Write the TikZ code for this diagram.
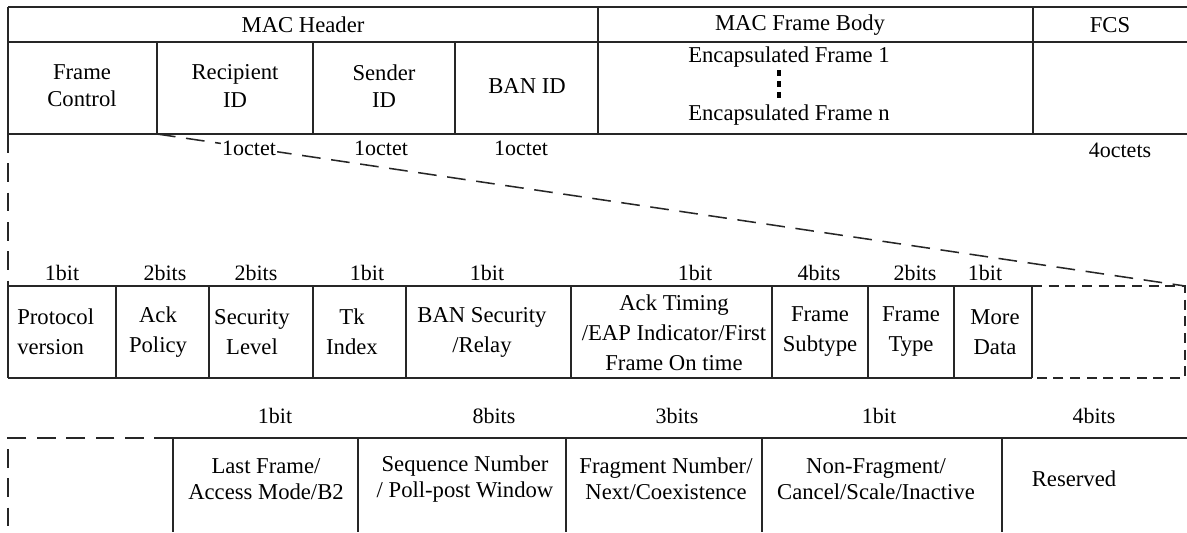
\documentclass[tikz,border=0pt]{standalone}
\usepackage{fontspec}
\setmainfont{Liberation Serif}
\begin{document}
\begin{tikzpicture}[x=0.75pt,y=-0.75pt]
\tikzset{
  tline/.style={line width=1.15pt, draw=black!85},
  zoomline/.style={line width=1.15pt, draw=black!85, dash pattern=on 14pt off 8pt},
  boxdash/.style={line width=1.15pt, draw=black!85, dash pattern=on 7.5pt off 5pt},
  txt/.style={font=\fontsize{17}{20.5}\selectfont, inner sep=0pt, align=center},
  midtxt/.style={font=\fontsize{17}{22.5}\selectfont, inner sep=0pt, align=center},
  bottxt/.style={font=\fontsize{17}{19.5}\selectfont, inner sep=0pt, align=center},
  bits/.style={font=\fontsize{16.5}{20}\selectfont, inner sep=0pt},
  dotsq/.style={fill=black, inner sep=0pt, minimum width=3.5pt, minimum height=4pt}
}
\useasboundingbox (0,0) rectangle (1187,532);

% ---------- key corners ----------
\coordinate (fcBL) at (8,134);
\coordinate (fcBR) at (157,134);
\coordinate (midTL) at (8,286);
\coordinate (midTR) at (1185,286);
\coordinate (midBR) at (1185,378);
\coordinate (boxTL) at (1032,286);
\coordinate (boxBL) at (1032,378);
\coordinate (botStart) at (173,438);
\coordinate (botTL) at (8,438);
\coordinate (botBL) at (8,532);

% ---------- top table ----------
\draw[tline] (8,7) -- (1187,7);
\draw[tline] (8,42) -- (1187,42);
\draw[tline] (8,134) -- (1187,134);
\draw[tline] (8,7) -- (8,134);
\draw[tline] (598,7) -- (598,134);
\draw[tline] (1033,7) -- (1033,134);
\foreach \x in {157,313,455} \draw[tline] (\x,42) -- (\x,134);

\node[txt] (mh) at (303,25) {MAC Header};
\node[txt] (mfb) at (800,25) {MAC Frame Body};
\node[txt] (fcs) at (1110,25) {FCS};
\node[txt] (fc) at (82,86) {Frame\\Control};
\node[txt] (rid) at (235,86) {Recipient\\ID};
\node[txt] (sid) at (384,86) {Sender\\ID};
\node[txt] (bid) at (527,86) {BAN ID};
\node[txt] (ef1) at (789,57) {Encapsulated Frame 1};
\node[txt] (efn) at (789,115) {Encapsulated Frame n};
\node[dotsq] (d1) at (779,73) {};
\node[dotsq] (d2) at (779,84) {};
\node[dotsq] (d3) at (779,95) {};

% ---------- zoom lines ----------
\draw[zoomline] (fcBL) -- (midTL);
\draw[zoomline] (fcBR) -- (midTR);

\node[bits, fill=white, inner xsep=1pt] (o1) at (249,148) {1octet};
\node[bits] (o2) at (381,148) {1octet};
\node[bits] (o3) at (521,148) {1octet};
\node[bits] (o4) at (1120,150) {4octets};

% ---------- middle table ----------
\draw[tline] (8,286) -- (boxTL);
\draw[tline] (8,378) -- (boxBL);
\foreach \x in {8,116,209,313,406,571,772,868,954,1032} \draw[tline] (\x,286) -- (\x,378);
\draw[boxdash] (boxTL) -- (midTR) -- (midBR) -- (boxBL);

\node[bits] (b1) at (62,273) {1bit};
\node[bits] (b2) at (165,273) {2bits};
\node[bits] (b3) at (256,273) {2bits};
\node[bits] (b4) at (367,273) {1bit};
\node[bits] (b5) at (487,273) {1bit};
\node[bits] (b6) at (695,273) {1bit};
\node[bits] (b7) at (819,273) {4bits};
\node[bits] (b8) at (915,273) {2bits};
\node[bits] (b9) at (985,273) {1bit};

\node[midtxt, align=left, anchor=west] (pv) at (17,332) {Protocol\\version};
\node[midtxt] (ap) at (158,332) {Ack\\Policy};
\node[midtxt] (sl) at (252,332) {Security\\Level};
\node[midtxt] (tk) at (352,332) {Tk\\Index};
\node[midtxt] (bsr) at (482,332) {BAN Security\\/Relay};
\node[midtxt] (at) at (674,333) {Ack Timing\\/EAP Indicator/First\\Frame On time};
\node[midtxt] (fst) at (820,332) {Frame\\Subtype};
\node[midtxt] (ft) at (911,332) {Frame\\Type};
\node[midtxt] (md) at (995,332) {More\\Data};

% ---------- bottom table ----------
\draw[zoomline] (botStart) -- (botTL) -- (botBL);
\draw[tline] (botStart) -- (1187,438);
\foreach \x in {173,358,566,762,1002} \draw[tline] (\x,438) -- (\x,532);

\node[bits] (c1) at (275,416) {1bit};
\node[bits] (c2) at (494,416) {8bits};
\node[bits] (c3) at (677,416) {3bits};
\node[bits] (c4) at (879,416) {1bit};
\node[bits] (c5) at (1094,416) {4bits};

\node[bottxt] (lf) at (266,479) {Last Frame/\\Access Mode/B2};
\node[bottxt] (sn) at (465,479) {Sequence Number\\/ Poll-post Window};
\node[bottxt] (fn) at (666,479) {Fragment Number/\\Next/Coexistence};
\node[bottxt] (nf) at (876,479) {Non-Fragment/\\Cancel/Scale/Inactive};
\node[bottxt] (rs) at (1074,479) {Reserved};
\end{tikzpicture}
\end{document}
